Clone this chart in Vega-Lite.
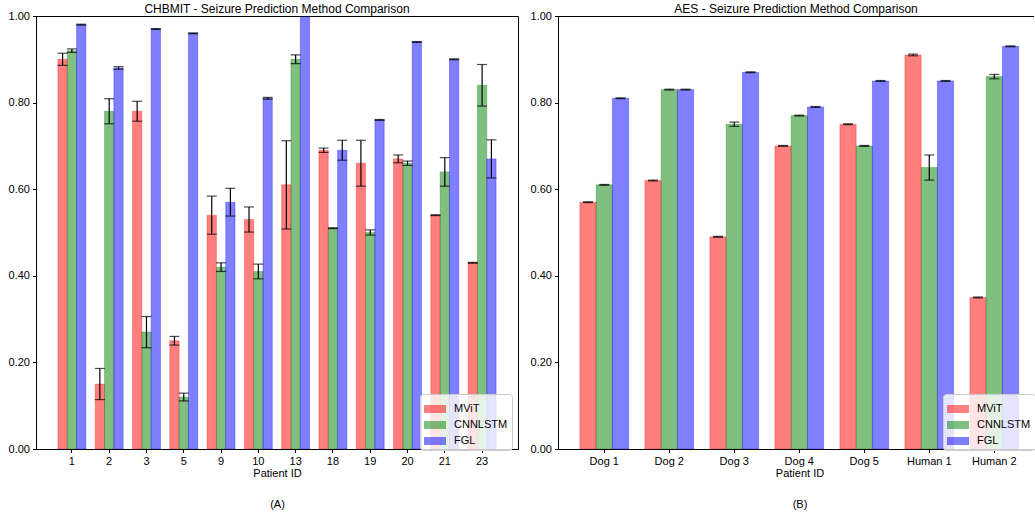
{
  "$schema": "https://vega.github.io/schema/vega-lite/v6.json",
  "padding": {"left": 7, "top": 2, "right": 0, "bottom": 0},
  "background": "white",
  "config": {
    "font": "Liberation Sans",
    "view": {"stroke": "black", "strokeWidth": 1},
    "axis": {"domainColor": "black", "tickColor": "black", "labelColor": "black", "titleColor": "black", "labelFontSize": 11, "titleFontSize": 11, "titleFontWeight": "normal", "tickSize": 3.5, "labelPadding": 3, "grid": false, "domainWidth": 1, "tickWidth": 1},
    "title": {"fontSize": 12, "fontWeight": "normal", "offset": -6, "color": "black"},
    "legend": {"title": null, "symbolType": "M-1,-0.364H1V0.364H-1Z", "symbolSize": 484, "symbolOpacity": 0.5, "symbolStrokeWidth": 0, "labelFontSize": 11, "labelColor": "black", "labelOffset": 8, "rowPadding": -6, "padding": 4, "fillColor": "rgba(255,255,255,0.8)", "strokeColor": "#cccccc", "cornerRadius": 3}
  },
  "datasets": {
    "chb": [
      {"id": "1", "method": "MViT", "value": 0.90, "lo": 0.886, "hi": 0.914},
      {"id": "1", "method": "CNNLSTM", "value": 0.92, "lo": 0.916, "hi": 0.924},
      {"id": "1", "method": "FGL", "value": 0.98, "lo": 0.979, "hi": 0.981},
      {"id": "2", "method": "MViT", "value": 0.15, "lo": 0.114, "hi": 0.186},
      {"id": "2", "method": "CNNLSTM", "value": 0.78, "lo": 0.751, "hi": 0.809},
      {"id": "2", "method": "FGL", "value": 0.88, "lo": 0.877, "hi": 0.883},
      {"id": "3", "method": "MViT", "value": 0.78, "lo": 0.757, "hi": 0.803},
      {"id": "3", "method": "CNNLSTM", "value": 0.27, "lo": 0.234, "hi": 0.306},
      {"id": "3", "method": "FGL", "value": 0.97, "lo": 0.969, "hi": 0.971},
      {"id": "5", "method": "MViT", "value": 0.25, "lo": 0.24, "hi": 0.26},
      {"id": "5", "method": "CNNLSTM", "value": 0.12, "lo": 0.111, "hi": 0.129},
      {"id": "5", "method": "FGL", "value": 0.96, "lo": 0.959, "hi": 0.961},
      {"id": "9", "method": "MViT", "value": 0.54, "lo": 0.496, "hi": 0.584},
      {"id": "9", "method": "CNNLSTM", "value": 0.42, "lo": 0.41, "hi": 0.43},
      {"id": "9", "method": "FGL", "value": 0.57, "lo": 0.538, "hi": 0.602},
      {"id": "10", "method": "MViT", "value": 0.53, "lo": 0.501, "hi": 0.559},
      {"id": "10", "method": "CNNLSTM", "value": 0.41, "lo": 0.393, "hi": 0.427},
      {"id": "10", "method": "FGL", "value": 0.81, "lo": 0.808, "hi": 0.812},
      {"id": "13", "method": "MViT", "value": 0.61, "lo": 0.508, "hi": 0.712},
      {"id": "13", "method": "CNNLSTM", "value": 0.90, "lo": 0.89, "hi": 0.91},
      {"id": "13", "method": "FGL", "value": 1.00, "lo": 0.999, "hi": 1.001},
      {"id": "18", "method": "MViT", "value": 0.69, "lo": 0.685, "hi": 0.695},
      {"id": "18", "method": "CNNLSTM", "value": 0.51, "lo": 0.509, "hi": 0.511},
      {"id": "18", "method": "FGL", "value": 0.69, "lo": 0.667, "hi": 0.713},
      {"id": "19", "method": "MViT", "value": 0.66, "lo": 0.607, "hi": 0.713},
      {"id": "19", "method": "CNNLSTM", "value": 0.50, "lo": 0.494, "hi": 0.506},
      {"id": "19", "method": "FGL", "value": 0.76, "lo": 0.759, "hi": 0.761},
      {"id": "20", "method": "MViT", "value": 0.67, "lo": 0.661, "hi": 0.679},
      {"id": "20", "method": "CNNLSTM", "value": 0.66, "lo": 0.655, "hi": 0.665},
      {"id": "20", "method": "FGL", "value": 0.94, "lo": 0.939, "hi": 0.941},
      {"id": "21", "method": "MViT", "value": 0.54, "lo": 0.539, "hi": 0.541},
      {"id": "21", "method": "CNNLSTM", "value": 0.64, "lo": 0.607, "hi": 0.673},
      {"id": "21", "method": "FGL", "value": 0.90, "lo": 0.899, "hi": 0.901},
      {"id": "23", "method": "MViT", "value": 0.43, "lo": 0.429, "hi": 0.431},
      {"id": "23", "method": "CNNLSTM", "value": 0.84, "lo": 0.792, "hi": 0.888},
      {"id": "23", "method": "FGL", "value": 0.67, "lo": 0.626, "hi": 0.714}
    ],
    "aes": [
      {"id": "Dog 1", "method": "MViT", "value": 0.57, "lo": 0.569, "hi": 0.571},
      {"id": "Dog 1", "method": "CNNLSTM", "value": 0.61, "lo": 0.609, "hi": 0.611},
      {"id": "Dog 1", "method": "FGL", "value": 0.81, "lo": 0.809, "hi": 0.811},
      {"id": "Dog 2", "method": "MViT", "value": 0.62, "lo": 0.619, "hi": 0.621},
      {"id": "Dog 2", "method": "CNNLSTM", "value": 0.83, "lo": 0.829, "hi": 0.831},
      {"id": "Dog 2", "method": "FGL", "value": 0.83, "lo": 0.829, "hi": 0.831},
      {"id": "Dog 3", "method": "MViT", "value": 0.49, "lo": 0.489, "hi": 0.491},
      {"id": "Dog 3", "method": "CNNLSTM", "value": 0.75, "lo": 0.745, "hi": 0.755},
      {"id": "Dog 3", "method": "FGL", "value": 0.87, "lo": 0.869, "hi": 0.871},
      {"id": "Dog 4", "method": "MViT", "value": 0.70, "lo": 0.699, "hi": 0.701},
      {"id": "Dog 4", "method": "CNNLSTM", "value": 0.77, "lo": 0.769, "hi": 0.771},
      {"id": "Dog 4", "method": "FGL", "value": 0.79, "lo": 0.789, "hi": 0.791},
      {"id": "Dog 5", "method": "MViT", "value": 0.75, "lo": 0.749, "hi": 0.751},
      {"id": "Dog 5", "method": "CNNLSTM", "value": 0.70, "lo": 0.699, "hi": 0.701},
      {"id": "Dog 5", "method": "FGL", "value": 0.85, "lo": 0.849, "hi": 0.851},
      {"id": "Human 1", "method": "MViT", "value": 0.91, "lo": 0.908, "hi": 0.912},
      {"id": "Human 1", "method": "CNNLSTM", "value": 0.65, "lo": 0.621, "hi": 0.679},
      {"id": "Human 1", "method": "FGL", "value": 0.85, "lo": 0.849, "hi": 0.851},
      {"id": "Human 2", "method": "MViT", "value": 0.35, "lo": 0.349, "hi": 0.351},
      {"id": "Human 2", "method": "CNNLSTM", "value": 0.86, "lo": 0.855, "hi": 0.865},
      {"id": "Human 2", "method": "FGL", "value": 0.93, "lo": 0.929, "hi": 0.931}
    ]
  },
  "bounds": "flush",
  "spacing": 40,
  "resolve": {"scale": {"x": "independent", "y": "independent", "xOffset": "independent", "color": "independent", "stroke": "independent"}, "legend": {"color": "independent"}},
  "hconcat": [
    {
      "width": 482,
      "height": 433,
      "title": "CHBMIT - Seizure Prediction Method Comparison",
      "data": {"name": "chb"},
      "encoding": {
        "x": {"field": "id", "type": "nominal", "sort": ["1", "2", "3", "5", "9", "10", "13", "18", "19", "20", "21", "23"], "scale": {"paddingInner": 0.25, "paddingOuter": 0.5875}, "axis": {"labelAngle": 0, "title": ["Patient ID", "(A)"], "titleLineHeight": 30.5, "titlePadding": 1}},
        "xOffset": {"field": "method", "type": "nominal", "sort": ["MViT", "CNNLSTM", "FGL"], "scale": {"paddingInner": 0, "paddingOuter": 0}}
      },
      "layer": [
        {
          "mark": {"type": "bar", "fillOpacity": 0.5, "strokeOpacity": 0.5, "strokeWidth": 0.6, "clip": true},
          "encoding": {
            "y": {"field": "value", "type": "quantitative", "scale": {"domain": [0, 1], "nice": false}, "axis": {"format": ".2f", "values": [0, 0.2, 0.4, 0.6, 0.8, 1], "title": null}},
            "color": {"field": "method", "type": "nominal", "sort": ["MViT", "CNNLSTM", "FGL"], "scale": {"domain": ["MViT", "CNNLSTM", "FGL"], "range": ["red", "green", "blue"]}, "legend": {"orient": "none", "legendX": 384, "legendY": 378}},
            "stroke": {"field": "method", "type": "nominal", "scale": {"domain": ["MViT", "CNNLSTM", "FGL"], "range": ["red", "green", "blue"]}, "legend": null}
          }
        },
        {
          "mark": {"type": "rule", "color": "black", "strokeWidth": 1.2, "clip": true},
          "encoding": {"y": {"field": "lo", "type": "quantitative"}, "y2": {"field": "hi"}}
        },
        {
          "mark": {"type": "tick", "color": "black", "size": 10, "thickness": 1.2, "clip": true},
          "encoding": {"y": {"field": "lo", "type": "quantitative"}}
        },
        {
          "mark": {"type": "tick", "color": "black", "size": 10, "thickness": 1.2, "clip": true},
          "encoding": {"y": {"field": "hi", "type": "quantitative"}}
        }
      ]
    },
    {
      "width": 476,
      "height": 433,
      "view": {"stroke": null},
      "title": "AES - Seizure Prediction Method Comparison",
      "data": {"name": "aes"},
      "encoding": {
        "x": {"field": "id", "type": "nominal", "sort": ["Dog 1", "Dog 2", "Dog 3", "Dog 4", "Dog 5", "Human 1", "Human 2"], "scale": {"paddingInner": 0.25, "paddingOuter": 0.2865, "align": 0.588}, "axis": {"labelAngle": 0, "title": ["Patient ID", "(B)"], "titleLineHeight": 30.5, "titlePadding": 1, "titleX": 241.5}},
        "xOffset": {"field": "method", "type": "nominal", "sort": ["MViT", "CNNLSTM", "FGL"], "scale": {"paddingInner": 0, "paddingOuter": 0}}
      },
      "layer": [
        {
          "mark": {"type": "bar", "fillOpacity": 0.5, "strokeOpacity": 0.5, "strokeWidth": 0.6, "clip": true},
          "encoding": {
            "y": {"field": "value", "type": "quantitative", "scale": {"domain": [0, 1], "nice": false}, "axis": {"format": ".2f", "values": [0, 0.2, 0.4, 0.6, 0.8, 1], "title": null}},
            "color": {"field": "method", "type": "nominal", "sort": ["MViT", "CNNLSTM", "FGL"], "scale": {"domain": ["MViT", "CNNLSTM", "FGL"], "range": ["red", "green", "blue"]}, "legend": {"orient": "none", "legendX": 385, "legendY": 378}},
            "stroke": {"field": "method", "type": "nominal", "scale": {"domain": ["MViT", "CNNLSTM", "FGL"], "range": ["red", "green", "blue"]}, "legend": null}
          }
        },
        {
          "mark": {"type": "rule", "color": "black", "strokeWidth": 1.2, "clip": true},
          "encoding": {"y": {"field": "lo", "type": "quantitative"}, "y2": {"field": "hi"}}
        },
        {
          "mark": {"type": "tick", "color": "black", "size": 10, "thickness": 1.2, "clip": true},
          "encoding": {"y": {"field": "lo", "type": "quantitative"}}
        },
        {
          "mark": {"type": "tick", "color": "black", "size": 10, "thickness": 1.2, "clip": true},
          "encoding": {"y": {"field": "hi", "type": "quantitative"}}
        },
        {
          "mark": {"type": "rule", "color": "black", "strokeWidth": 1, "yOffset": 0.5},
          "encoding": {"y": {"datum": 1}, "x": null, "xOffset": null}
        }
      ]
    }
  ]
}
